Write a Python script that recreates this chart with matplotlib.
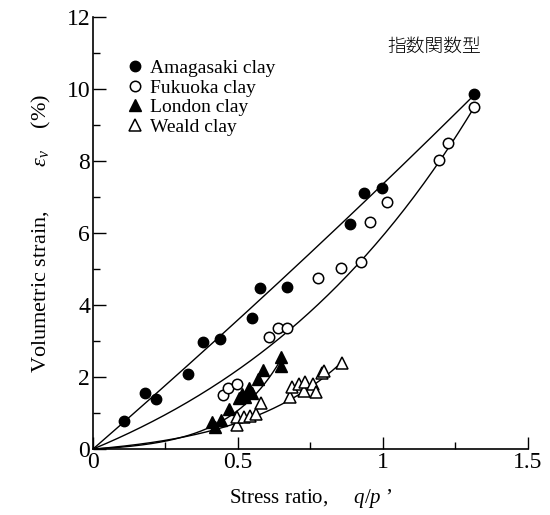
import numpy as np
import matplotlib
matplotlib.use("Agg")
import matplotlib.pyplot as plt
from matplotlib.ticker import MultipleLocator

plt.rcParams['font.family'] = ['Liberation Serif', 'DejaVu Serif']
plt.rcParams['mathtext.fontset'] = 'custom'
plt.rcParams['mathtext.rm'] = 'Liberation Serif'
plt.rcParams['mathtext.it'] = 'Liberation Serif:italic'

# measured points (stress ratio q/p', volumetric strain %)
amagasaki_x = [0.108, 0.179, 0.218, 0.328, 0.378, 0.438, 0.547, 0.577, 0.668, 0.886, 0.936, 0.995, 1.315]
amagasaki_y = [0.78, 1.55, 1.39, 2.09, 2.98, 3.05, 3.63, 4.46, 4.51, 6.24, 7.10, 7.24, 9.85]

fukuoka_x = [0.447, 0.467, 0.497, 0.607, 0.637, 0.668, 0.777, 0.855, 0.924, 0.955, 1.015, 1.194, 1.225, 1.315]
fukuoka_y = [1.50, 1.71, 1.81, 3.11, 3.37, 3.37, 4.74, 5.02, 5.20, 6.31, 6.85, 8.03, 8.50, 9.51]

london_x = [0.41, 0.42, 0.44, 0.47, 0.505, 0.515, 0.525, 0.537, 0.55, 0.568, 0.585, 0.648, 0.648]
london_y = [0.76, 0.62, 0.81, 1.11, 1.42, 1.52, 1.45, 1.70, 1.55, 1.94, 2.19, 2.32, 2.56]

weald_x = [0.497, 0.497, 0.521, 0.54, 0.561, 0.578, 0.678, 0.687, 0.709, 0.728, 0.73, 0.759, 0.768, 0.79, 0.795, 0.857]
weald_y = [0.67, 0.90, 0.88, 0.93, 0.97, 1.27, 1.45, 1.73, 1.80, 1.62, 1.85, 1.80, 1.59, 2.12, 2.18, 2.40]

# exponential-type fit: eps = a * (exp(b * x) - 1), drawn up to x_end
fit_a = [70.0, 3.19, 0.0775, 0.24]
fit_b = [0.10, 1.05, 5.4, 2.8]
fit_end = [1.32, 1.32, 0.655, 0.86]

labels = ['Amagasaki clay', 'Fukuoka clay', 'London clay', 'Weald clay']

fig = plt.figure(figsize=(5.5, 5.15), dpi=100)
ax = fig.add_axes([0.169, 0.128, 0.791, 0.839])

for a, b, xe in zip(fit_a, fit_b, fit_end):
    xs = np.linspace(0, xe, 200)
    ax.plot(xs, a * (np.exp(b * xs) - 1), color='black', lw=1.0, zorder=2)

ms = 7.5
ax.plot(amagasaki_x, amagasaki_y, 'o', color='black', ms=ms, label=labels[0], zorder=3)
ax.plot(fukuoka_x, fukuoka_y, 'o', mfc='white', mec='black', mew=1.1, ms=ms, label=labels[1], zorder=3)
ax.plot(london_x, london_y, '^', color='black', ms=ms + 0.5, label=labels[2], zorder=3)
ax.plot(weald_x, weald_y, '^', mfc='white', mec='black', mew=1.1, ms=ms + 0.5, label=labels[3], zorder=3)

ax.set_xlim(0, 1.5)
ax.set_ylim(0, 12)
ax.set_xticks([0, 0.5, 1, 1.5])
ax.set_xticklabels(['0', '0.5', '1', '1.5'])
ax.xaxis.set_minor_locator(MultipleLocator(0.25))
ax.yaxis.set_major_locator(MultipleLocator(2))
ax.yaxis.set_minor_locator(MultipleLocator(1))

ax.spines['top'].set_visible(False)
ax.spines['right'].set_visible(False)
ax.spines['left'].set_linewidth(1.2)
ax.spines['bottom'].set_linewidth(1.2)
ax.tick_params(which='major', direction='in', length=9, width=1.0, labelsize=17, pad=2)
ax.tick_params(which='minor', direction='in', length=5, width=1.0)

ax.set_xlabel("Stress ratio,     $q/p$ \u2019", fontsize=15, labelpad=10)
ax.set_ylabel("Volumetric strain,        $\\varepsilon_v$    (%)", fontsize=16, labelpad=10)

ax.text(0.785, 0.93, '指数関数型', transform=ax.transAxes, ha='center', va='center',
        fontsize=13.5, family=['Noto Sans CJK JP'], fontweight='light')

ax.legend(loc='upper left', bbox_to_anchor=(0.06, 0.92), frameon=False, fontsize=14,
          handlelength=0.8, handletextpad=0.4, labelspacing=0.1, borderaxespad=0)

fig.savefig('out.png', dpi=100)
